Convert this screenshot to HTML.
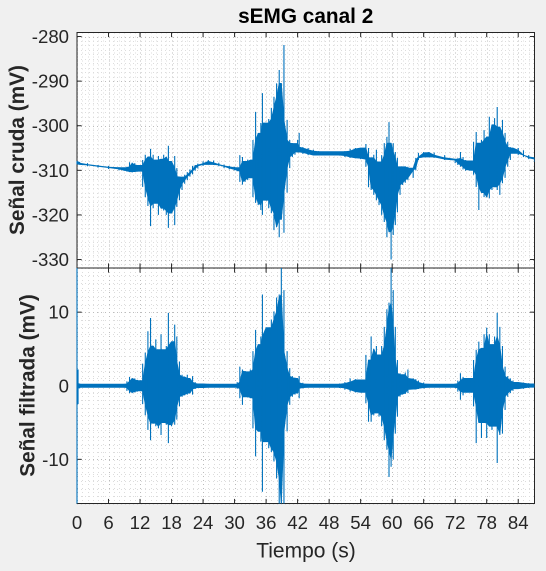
<!DOCTYPE html>
<html lang="es">
<head>
<meta charset="utf-8">
<title>sEMG canal 2</title>
<style>
html,body{margin:0;padding:0;background:#f0f0f0;}
body{width:546px;height:571px;overflow:hidden;}
svg{display:block;font-family:"Liberation Sans",Arial,sans-serif;}
</style>
</head>
<body>
<svg id="chart" xmlns="http://www.w3.org/2000/svg" width="546" height="571" viewBox="0 0 546 571">
  <rect width="546" height="571" fill="#f0f0f0"/>
  <defs>
    <clipPath id="clipTop"><rect x="76" y="32.5" width="458.5" height="235.5"/></clipPath>
    <clipPath id="clipBottom"><rect x="76" y="268" width="458.5" height="235.5"/></clipPath>
  </defs>
  <g id="panels"></g>
  <text x="305.7" y="23" text-anchor="middle" font-size="20.8" font-weight="bold" fill="#000">sEMG canal 2</text>
  <text transform="translate(24 150) rotate(-90)" text-anchor="middle" font-size="20.8" font-weight="bold" fill="#262626">Señal cruda (mV)</text>
  <text transform="translate(34.5 385.5) rotate(-90)" text-anchor="middle" font-size="20.8" font-weight="bold" fill="#262626">Señal filtrada (mV)</text>
  <text x="306" y="557.5" text-anchor="middle" font-size="21" fill="#262626">Tiempo (s)</text>
</svg>
<script>
const timeS = [
  0,0.2,0.5,2,4,6,8,9,
  9.5,10,10.5,11,11.5,12,12.5,13,13.5,14,
  14.5,15,15.5,16,16.5,17,17.4,18,18.6,19,
  19.5,20,20.5,21,21.5,22,22.5,23,24,25,
  26,27,28,29,30,30.5,31,31.5,32,32.5,
  33,33.5,34,34.5,35,35.3,36,36.5,37,37.5,
  38,38.5,38.9,39.4,40,40.5,41,41.5,42,42.3,
  43,44,45,46,48,50,51,52,53,54,
  55,55.5,56,56.5,57,57.5,58,58.5,59,59.4,
  59.8,60.2,60.6,61,61.5,62,62.5,63,64,64.5,
  65,66,67,68,70,72,72.5,73,73.5,74,
  75,75.5,76,76.5,77,77.5,78,78.5,79,79.5,
  80,80.5,81,81.5,82,82.5,83,84,85,86,87.1
];
const rawUpper = [
  -308.0,-308.0,-308.1,-308.4,-308.8,-309.0,-309.3,-309.4,
  -309.2,-308.2,-308.3,-308.4,-308.8,-308.9,-307.7,-306.5,-307,-305.2,
  -306.5,-307.7,-306.8,-307.5,-306.5,-307,-304.5,-308,-306.8,-309.5,
  -311.4,-311.5,-311,-310.4,-309.8,-309,-308.8,-308.5,-308,-307.7,
  -307.8,-308.3,-308.7,-309,-309.2,-309.4,-306.6,-307,-308,-307.6,
  -307.7,-303.2,-296.9,-301.7,-299.4,-292.7,-299.4,-298.5,-296,-293.5,
  -290.5,-287.5,-290.5,-281.9,-298.7,-303.2,-303.9,-304,-303.2,-301.6,
  -304.8,-305,-305.4,-305.7,-305.8,-305.8,-305.7,-305.2,-305,-305,
  -304.1,-305,-307.2,-306.5,-305.4,-308.1,-306.6,-303.9,-302.5,-299.2,
  -303.9,-303.9,-305.9,-307.2,-309.2,-309.2,-309.2,-309.2,-309.5,-307.2,
  -306.1,-305.9,-305.9,-306,-306.6,-307.5,-307.3,-305.9,-307,-307.7,
  -307.9,-303.6,-301.4,-303.9,-303.2,-301,-302.5,-298,-299.8,-298.3,
  -295.8,-300.3,-298.7,-301.6,-303.6,-304.8,-305,-305,-305.5,-306.6,-307.2
];
const rawLower = [
  -308.6,-308.7,-308.7,-309.1,-309.4,-309.7,-310.0,-310.1,
  -310.3,-310.4,-310.5,-310.3,-310.3,-310.2,-313.7,-316,-318,-322.5,
  -318.5,-317.4,-320,-318.5,-319,-320,-322.9,-319.6,-322.3,-318.2,
  -316.7,-314.4,-313,-312.2,-311.4,-310.9,-310.1,-309.6,-309,-308.7,
  -308.8,-309.1,-309.5,-309.8,-310,-310.2,-312.6,-313.2,-312.6,-312.2,
  -311.7,-316,-317.3,-317.8,-318.9,-320,-316.7,-318.5,-319.6,-323.4,
  -322.7,-325,-321,-324,-315,-309.5,-307,-306.5,-305.9,-306,
  -306.3,-306.6,-306.6,-306.6,-306.6,-306.7,-307,-307.2,-307.3,-307.5,
  -309.2,-313.8,-314.4,-315.5,-316.7,-317.8,-320,-321.6,-325,-323.8,
  -330,-324.5,-322.3,-319.4,-315.5,-313.3,-312.8,-312.2,-311.7,-310,
  -307.7,-307,-307,-307.2,-307.7,-308.4,-308.8,-309.2,-309.8,-310.1,
  -310,-311,-313.7,-318.9,-315,-316,-316,-316.3,-314.4,-313.7,
  -314.4,-315.5,-312.9,-311.7,-309.2,-307.7,-306.2,-306.6,-307,-307.5,-308.1
];
const filteredUpper = [
  16,2.2,0.3,0.22,0.22,0.22,0.22,0.25,
  0.6,1.2,1,1,0.8,0.7,3,4.5,7.4,9.2,
  5.4,6.3,4.9,7,4.9,5.4,9.9,6,8.3,6.7,
  3.3,1.5,1.2,1.5,1,1.3,0.5,0.3,0.25,0.25,
  0.22,0.22,0.22,0.22,0.22,0.5,2.6,2.2,2,1.9,
  2.2,4.7,7.6,5.6,6.7,12.4,7.9,7.9,9,10.1,
  12,12.4,16,13,4.7,2.4,1.3,1.1,1,1.3,
  0.4,0.25,0.22,0.22,0.22,0.3,0.5,1,0.9,0.8,
  4.2,3.5,6.7,5,5.4,4.2,5.4,8,10.4,11.3,
  16,13,8,3.5,1.7,1.5,1.8,2.2,1,0.9,
  0.7,0.45,0.25,0.22,0.22,0.3,0.7,1.7,1.2,1,
  1,3.5,4.9,6,5.1,7,7.9,7,5.6,6.7,
  9.9,8,5.4,2.6,1.3,1,0.7,0.45,0.45,0.35,0.25
];
const filteredLower = [
  -16,-2.5,-0.35,-0.22,-0.22,-0.22,-0.22,-0.25,
  -0.7,-1,-1,-0.9,-0.8,-0.7,-2.5,-4,-6,-7.4,
  -5.1,-5.5,-5.8,-6.7,-5,-5.3,-7.8,-5.5,-5.3,-4.6,
  -2.8,-1.5,-1.3,-1.2,-1,-1.2,-0.45,-0.3,-0.25,-0.25,
  -0.22,-0.22,-0.22,-0.22,-0.22,-0.4,-1.7,-2.6,-1.5,-1.6,
  -1.7,-5.8,-9.6,-6.2,-7.6,-14.4,-7.6,-8.5,-9,-10.3,
  -12.6,-16,-16,-16,-6.2,-2.6,-1.5,-1.2,-1,-1.7,
  -0.35,-0.25,-0.22,-0.22,-0.22,-0.3,-0.55,-0.8,-0.9,-0.9,
  -2.4,-4.9,-4.9,-4,-3.7,-4.2,-5.5,-7.4,-8.7,-12.4,
  -11,-10,-6.5,-4.2,-1.5,-1.2,-1.1,-1,-0.5,-0.45,
  -0.45,-0.35,-0.25,-0.22,-0.22,-0.3,-0.8,-1.9,-1.3,-0.9,
  -0.9,-2.8,-7.8,-5,-7.1,-5,-7.1,-5.5,-6,-5.5,
  -10.5,-6.7,-6.5,-3.3,-1.5,-1,-0.7,-0.4,-0.4,-0.3,-0.2
];
const xTickLabels = [0,6,12,18,24,30,36,42,48,54,60,66,72,78,84];
const rawTickLabels = [-280,-290,-300,-310,-320,-330];
const filteredTickLabels = [10,0,-10];
const xDomain = [0,87.1];
const rawDomain = [-331.9,-279.1];
const filteredDomain = [-16,16];

const NS = 'http://www.w3.org/2000/svg';
const LEFT = 77, RIGHT = 534.5, TICK = 4.6;
const INK = '#262626', LINE_BLUE = '#0072bd';
const panelsRoot = document.getElementById('panels');

function xScale(v){ return LEFT + (v - xDomain[0]) / (xDomain[1] - xDomain[0]) * (RIGHT - LEFT); }
function makeYScale(domain, top, bottom){
  return function(v){ return bottom - (v - domain[0]) / (domain[1] - domain[0]) * (bottom - top); };
}
function el(tag, attrs, parent){
  const node = document.createElementNS(NS, tag);
  for (const k in attrs) node.setAttribute(k, attrs[k]);
  parent.appendChild(node);
  return node;
}

function drawPanel(key, top, bottom, domain, upper, lower, yTicks, yMinorStep, clipId, showXLabels){
  const yScale = makeYScale(domain, top, bottom);
  const g = el('g', {}, panelsRoot);
  
  

  const bg = el('rect', {x: LEFT, y: top, width: RIGHT - LEFT, height: bottom - top, fill: '#fff'}, g);
  
  

  const grid = el('g', {fill: 'none', 'stroke-width': 1}, g);
  
  
  for (let s = Math.ceil(xDomain[0]); s <= xDomain[1]; s += 1) {
    const px = Math.round(xScale(s)) + 0.5;
    const major = s % 6 === 0;
    const gl = el('line', {x1: px, x2: px, y1: top, y2: bottom, stroke: major ? '#bcbcbc' : '#dcdcdc', 'stroke-dasharray': '1 3'}, grid);
    
    
  }
  for (let v = Math.ceil(domain[0] / yMinorStep) * yMinorStep; v <= domain[1]; v += yMinorStep) {
    const py = Math.round(yScale(v)) + 0.5;
    const major = yTicks.indexOf(v) >= 0;
    const gl = el('line', {x1: LEFT, x2: RIGHT, y1: py, y2: py, stroke: major ? '#bcbcbc' : '#dcdcdc', 'stroke-dasharray': '1 3'}, grid);
    
    
  }

  const axes = el('g', {stroke: INK, 'stroke-width': 1, fill: 'none'}, g);
  
  
  const frame = el('rect', {x: LEFT, y: top, width: RIGHT - LEFT, height: bottom - top}, axes);
  
  

  const series = el('g', {'clip-path': 'url(#' + clipId + ')'}, g);
  
  

  // solid body of the signal: band reached by each sample and its neighbours
  let topPts = [], botPts = [];
  for (let i = 0; i < timeS.length; i++) {
    const a = Math.max(i - 1, 0), b = Math.min(i + 1, timeS.length - 1);
    const coreTop = Math.min(upper[a], upper[i], upper[b]);
    const coreBot = Math.max(lower[a], lower[i], lower[b]);
    const hi = Math.max(coreTop, coreBot);
    const lo = Math.min(coreTop, coreBot);
    topPts.push(xScale(timeS[i]).toFixed(2) + ',' + yScale(hi).toFixed(2));
    botPts.unshift(xScale(timeS[i]).toFixed(2) + ',' + yScale(lo).toFixed(2));
  }
  const body = el('polygon', {points: topPts.concat(botPts).join(' '), fill: LINE_BLUE, stroke: LINE_BLUE, 'stroke-width': 0.8, 'stroke-linejoin': 'round'}, series);
  
  

  // per-sample peak excursions
  let d = '';
  for (let i = 0; i < timeS.length; i++) {
    const px = xScale(timeS[i]).toFixed(2);
    d += 'M' + px + ' ' + yScale(upper[i]).toFixed(2) + 'V' + yScale(lower[i]).toFixed(2);
  }
  const peaks = el('path', {d: d, fill: 'none', stroke: LINE_BLUE, 'stroke-width': 1.1}, series);
  
  

  xTickLabels.forEach(function(v){
    const px = xScale(v);
    const t1 = el('line', {x1: px, x2: px, y1: bottom, y2: bottom - TICK}, axes);
    
    
    const t2 = el('line', {x1: px, x2: px, y1: top, y2: top + TICK}, axes);
    
    
    if (showXLabels) {
      const lab = el('text', {x: px, y: 529, 'text-anchor': 'middle', 'font-size': 18.6, fill: INK}, g);
      lab.textContent = String(v);
      
      
    }
  });
  yTicks.forEach(function(v){
    const py = yScale(v);
    const t1 = el('line', {x1: LEFT, x2: LEFT + TICK, y1: py, y2: py}, axes);
    
    
    const t2 = el('line', {x1: RIGHT, x2: RIGHT - TICK, y1: py, y2: py}, axes);
    
    
    const lab = el('text', {x: 69, y: py + 6.5, 'text-anchor': 'end', 'font-size': 18.6, fill: INK}, g);
    lab.textContent = String(v);
    
    
  });
}

drawPanel('raw', 32.5, 268, rawDomain, rawUpper, rawLower, rawTickLabels, 1, 'clipTop', false);
drawPanel('filtered', 268, 503.5, filteredDomain, filteredUpper, filteredLower, filteredTickLabels, 1, 'clipBottom', true);
</script>
</body>
</html>
